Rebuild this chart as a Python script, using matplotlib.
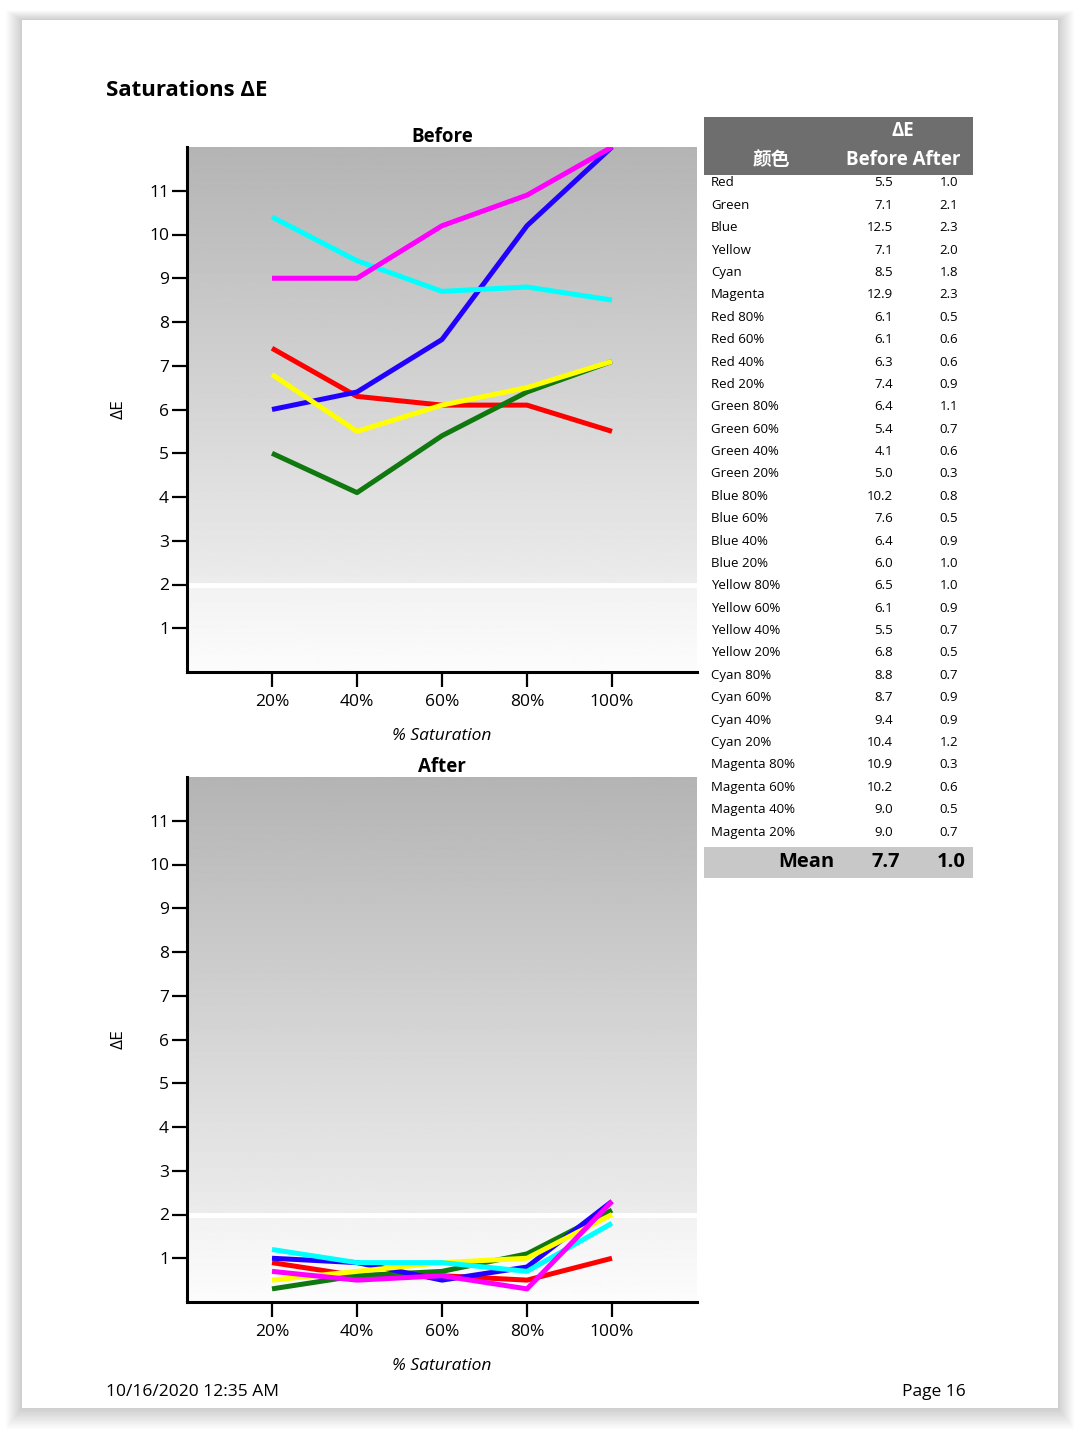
# plot.py
# Saturations ΔE - before / after calibration
import matplotlib.pyplot as plt
import numpy as np
from matplotlib.patches import Rectangle

plt.rcParams["font.family"] = ["Open Sans", "Noto Sans CJK SC", "DejaVu Sans"]

# --- DATA ---
sat_labels = ["20%", "40%", "60%", "80%", "100%"]
sat_levels = [20, 40, 60, 80, 100]

color_names = ["Red", "Green", "Blue", "Yellow", "Cyan", "Magenta"]
row_names = [
    "Red", "Green", "Blue", "Yellow", "Cyan", "Magenta",
    "Red 80%", "Red 60%", "Red 40%", "Red 20%",
    "Green 80%", "Green 60%", "Green 40%", "Green 20%",
    "Blue 80%", "Blue 60%", "Blue 40%", "Blue 20%",
    "Yellow 80%", "Yellow 60%", "Yellow 40%", "Yellow 20%",
    "Cyan 80%", "Cyan 60%", "Cyan 40%", "Cyan 20%",
    "Magenta 80%", "Magenta 60%", "Magenta 40%", "Magenta 20%",
]
before_de = [5.5, 7.1, 12.5, 7.1, 8.5, 12.9,
             6.1, 6.1, 6.3, 7.4,
             6.4, 5.4, 4.1, 5.0,
             10.2, 7.6, 6.4, 6.0,
             6.5, 6.1, 5.5, 6.8,
             8.8, 8.7, 9.4, 10.4,
             10.9, 10.2, 9.0, 9.0]
after_de = [1.0, 2.1, 2.3, 2.0, 1.8, 2.3,
            0.5, 0.6, 0.6, 0.9,
            1.1, 0.7, 0.6, 0.3,
            0.8, 0.5, 0.9, 1.0,
            1.0, 0.9, 0.7, 0.5,
            0.7, 0.9, 0.9, 1.2,
            0.3, 0.6, 0.5, 0.7]
mean_before = 7.7
mean_after = 1.0

line_colors = {"Red": "#ff0000", "Green": "#0f780f", "Blue": "#2200ff",
               "Yellow": "#ffff00", "Cyan": "#00ffff", "Magenta": "#ff00ff"}

Y_MAX = 12  # chart clamps values at the top of the axis


def series(name, vals):
    # 20%, 40%, 60%, 80% rows, then the pure colour (100%)
    out = []
    for lvl in ["20%", "40%", "60%", "80%"]:
        out.append(vals[row_names.index(f"{name} {lvl}")])
    out.append(vals[row_names.index(name)])
    return np.minimum(out, Y_MAX)


W, H = 1080, 1430
fig = plt.figure(figsize=(W / 100, H / 100), dpi=100)
fig.patch.set_facecolor("white")


def px_rect(x0, y0, x1, y1):
    return [x0 / W, 1 - y1 / H, (x1 - x0) / W, (y1 - y0) / H]


# page with soft shadow
bg = fig.add_axes([0, 0, 1, 1])
bg.set_xlim(0, W)
bg.set_ylim(H, 0)
bg.axis("off")
for i in range(16, 0, -1):
    bg.add_patch(Rectangle((22 - i, 20 - i * 0.6), 1036 + 2 * i, 1388 + i * 1.9,
                           facecolor="black", alpha=0.012, lw=0))
bg.add_patch(Rectangle((22, 20), 1036, 1388, facecolor="white", lw=0))

fig.text(106 / W, 1 - 91 / H, "Saturations ΔE", fontsize=16, fontweight="bold",
         va="center", ha="left")
fig.text(106 / W, 1 - 1392 / H, "10/16/2020 12:35 AM", fontsize=12.5,
         va="center", ha="left")
fig.text(902 / W, 1 - 1392 / H, "Page 16", fontsize=12.5, va="center", ha="left")

# gradient background for the plots
yy = np.linspace(0, 12, 600)
shade = np.where(yy > 2, 236 - (yy - 2) / 10 * 56, 252 - yy / 2 * 10) / 255
grad = np.repeat(shade[:, None], 2, axis=1)


def draw_panel(rect, title, vals):
    ax = fig.add_axes(px_rect(*rect))
    ax.imshow(grad, extent=[0, 120, 0, 12], origin="lower", aspect="auto",
              cmap="gray", vmin=0, vmax=1, zorder=0, interpolation="bilinear")
    ax.axhline(2, color="white", lw=3.5, zorder=1)
    for name in color_names:
        ax.plot(sat_levels, series(name, vals), color=line_colors[name],
                lw=3.6, zorder=3, solid_capstyle="butt")
    ax.set_xlim(0, 120)
    ax.set_ylim(0, 12)
    ax.set_xticks(sat_levels)
    ax.set_xticklabels(sat_labels)
    ax.set_yticks(range(1, 12))
    ax.tick_params(axis="both", direction="out", length=11, width=1.6,
                   labelsize=12.5, pad=2)
    ax.tick_params(axis="x", pad=5)
    for s in ["top", "right"]:
        ax.spines[s].set_visible(False)
    for s in ["left", "bottom"]:
        ax.spines[s].set_linewidth(2.2)
        ax.spines[s].set_zorder(5)
    ax.set_ylabel("ΔE", fontsize=12.5, labelpad=16)
    ax.set_xlabel("% Saturation", fontsize=12.5, style="italic", labelpad=13)
    ax.set_title(title, fontsize=13.5, fontweight="bold", pad=3)
    return ax


draw_panel((187, 147, 697, 672), "Before", before_de)
draw_panel((187, 777, 697, 1302), "After", after_de)

# --- TABLE ---
tb = fig.add_axes(px_rect(704, 117, 973, 878))
tb.set_xlim(704, 973)
tb.set_ylim(878, 117)
tb.axis("off")
tb.add_patch(Rectangle((704, 117), 269, 58, facecolor="#6e6e6e", lw=0))
tb.add_patch(Rectangle((704, 847), 269, 31, facecolor="#c8c8c8", lw=0))
tb.text(903, 131, "ΔE", color="white", fontsize=13.5, fontweight="bold",
        ha="center", va="center")
tb.text(771, 160, "颜色", color="white", fontsize=13.5, fontweight="bold",
        ha="center", va="center")
tb.text(960, 160, "Before After", color="white", fontsize=13.5, fontweight="bold",
        ha="right", va="center")

row_y0, row_dy = 183, 22.38
for i, (nm, b, a) in enumerate(zip(row_names, before_de, after_de)):
    y = row_y0 + i * row_dy
    tb.text(711, y, nm, fontsize=9.5, ha="left", va="center")
    tb.text(893, y, f"{b:.1f}", fontsize=9.5, ha="right", va="center")
    tb.text(958, y, f"{a:.1f}", fontsize=9.5, ha="right", va="center")

tb.text(834, 862, "Mean", fontsize=14.5, fontweight="bold", ha="right", va="center")
tb.text(900, 862, f"{mean_before:.1f}", fontsize=14.5, fontweight="bold",
        ha="right", va="center")
tb.text(966, 862, f"{mean_after:.1f}", fontsize=14.5, fontweight="bold",
        ha="right", va="center")

fig.savefig("out.png", dpi=100, facecolor=fig.get_facecolor())
print("saved out.png")
